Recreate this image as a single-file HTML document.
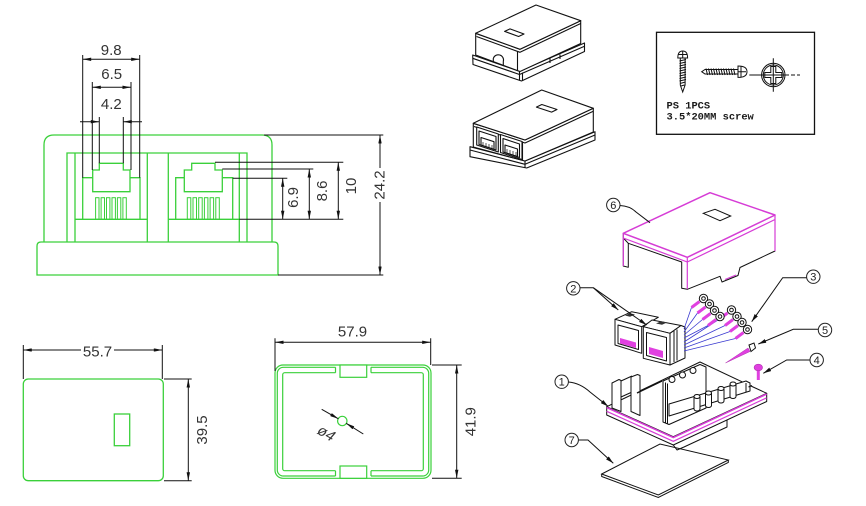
<!DOCTYPE html>
<html><head><meta charset="utf-8"><style>
html,body{margin:0;padding:0;background:#fff;}
svg{display:block;}
.d{font-family:"Liberation Sans",sans-serif;font-size:15px;fill:#333;}
.n{font-family:"Liberation Sans",sans-serif;font-size:11px;fill:#222;}
.m{font-family:"Liberation Mono",monospace;font-size:10.4px;font-weight:bold;fill:#1a1a1a;}
</style></head><body>
<svg width="866" height="506" viewBox="0 0 866 506" xmlns="http://www.w3.org/2000/svg">
<defs>
<marker id="a" viewBox="0 0 10 4" refX="10" refY="2" markerWidth="9" markerHeight="3.4" markerUnits="userSpaceOnUse" orient="auto-start-reverse"><path d="M0,0 L10,2 L0,4 Z" fill="#111"/></marker>
<marker id="b" viewBox="0 0 10 5" refX="10" refY="2.5" markerWidth="8" markerHeight="4" markerUnits="userSpaceOnUse" orient="auto"><path d="M0,0 L10,2.5 L0,5 Z" fill="#111"/></marker>
</defs>
<rect width="866" height="506" fill="#fff"/>

<!-- ===== FRONT VIEW (green) ===== -->
<g stroke="#3ad03a" stroke-width="1.3" fill="none">
<path d="M44,242 V145 Q44,135 54,135 H262 Q272,135 272,145 V242"/>
<path d="M37,275 V246 Q37,242 41,242 H274 Q278,242 278,246 V275 Z"/>
<path d="M67,242 V153 H247 V242"/>
<path d="M75,242 V153 M147.3,242 V153 M168.3,242 V153 M239.3,242 V153"/>
<path d="M75,219.3 H147.3 M168.3,219.3 H239.3"/>
<path d="M82.7,219.3 V177.7 H92.7 M140,219.3 V177.7 H130"/>
<path d="M92.7,191.7 V170 H99.3 V163.3 H123.3 V170 H130 V191.7 Z"/>
<path d="M175.7,219.3 V177.7 H184.3 M232.7,219.3 V177.7 H222.3"/>
<path d="M184.3,191.7 V170 H191.7 V163.3 H215 V170 H222.3 V191.7 Z"/>
<g stroke-width="1">
<rect x="95.6" y="197.7" width="3.4" height="21.6"/><rect x="101.1" y="197.7" width="3.4" height="21.6"/><rect x="106.5" y="197.7" width="3.4" height="21.6"/><rect x="112" y="197.7" width="3.4" height="21.6"/><rect x="117.4" y="197.7" width="3.4" height="21.6"/><rect x="122.9" y="197.7" width="3.4" height="21.6"/>
<rect x="187.3" y="197.7" width="3.5" height="21.6"/><rect x="193" y="197.7" width="3.5" height="21.6"/><rect x="198.7" y="197.7" width="3.5" height="21.6"/><rect x="204.4" y="197.7" width="3.5" height="21.6"/><rect x="210.1" y="197.7" width="3.5" height="21.6"/><rect x="215.8" y="197.7" width="3.5" height="21.6"/>
</g>
</g>

<!-- front view dims -->
<g stroke="#111" stroke-width="1" fill="none">
<path d="M82.7,55 V177.7 M139.7,55 V177.7"/>
<line x1="82.7" y1="59.3" x2="139.7" y2="59.3" marker-start="url(#a)" marker-end="url(#a)"/>
<path d="M92.3,82 V170 M131,82 V170"/>
<line x1="92.3" y1="87.3" x2="131" y2="87.3" marker-start="url(#a)" marker-end="url(#a)"/>
<path d="M99.3,117 V163.3 M123.3,117 V163.3"/>
<line x1="80" y1="121.7" x2="99.3" y2="121.7" marker-end="url(#a)"/>
<line x1="142" y1="121.7" x2="123.3" y2="121.7" marker-end="url(#a)"/>
<path d="M264,135 H383.3 M278,275 H383.3"/>
<line x1="380" y1="168" x2="380" y2="135" marker-end="url(#a)"/>
<line x1="380" y1="202" x2="380" y2="275" marker-end="url(#a)"/>
<path d="M215,162.3 H343.3 M239.3,219.3 H343.3"/>
<line x1="338.3" y1="162.3" x2="338.3" y2="219.3" marker-start="url(#a)" marker-end="url(#a)"/>
<path d="M222.3,169 H313.3"/>
<line x1="309.3" y1="169" x2="309.3" y2="219.3" marker-start="url(#a)" marker-end="url(#a)"/>
<path d="M232.7,178.3 H287.3"/>
<line x1="282.7" y1="178.3" x2="282.7" y2="219.3" marker-start="url(#a)" marker-end="url(#a)"/>
</g>
<text class="d" x="111.2" y="55" text-anchor="middle">9.8</text>
<text class="d" x="111.7" y="79" text-anchor="middle">6.5</text>
<text class="d" x="111.3" y="109" text-anchor="middle">4.2</text>
<text class="d" text-anchor="middle" dy="0.35em" transform="translate(379,185) rotate(-90)">24.2</text>
<text class="d" text-anchor="middle" dy="0.35em" transform="translate(350.8,186) rotate(-90)">10</text>
<text class="d" text-anchor="middle" dy="0.35em" transform="translate(321.7,191) rotate(-90)">8.6</text>
<text class="d" text-anchor="middle" dy="0.35em" transform="translate(292.5,197.5) rotate(-90)">6.9</text>

<!-- ===== SIDE VIEW ===== -->
<g stroke="#3ad03a" stroke-width="1.3" fill="none">
<rect x="23.3" y="379" width="140" height="101.7" rx="5"/>
<rect x="114.3" y="414" width="15.4" height="31.7"/>
</g>
<g stroke="#111" stroke-width="1" fill="none">
<path d="M23.3,345 V379 M162.3,345 V379"/>
<line x1="81" y1="350" x2="23.3" y2="350" marker-end="url(#a)"/>
<line x1="114" y1="350" x2="162.3" y2="350" marker-end="url(#a)"/>
<path d="M164,379 H191.7 M164,480.7 H191.7"/>
<line x1="188.3" y1="379" x2="188.3" y2="480.7" marker-start="url(#a)" marker-end="url(#a)"/>
</g>
<text class="d" x="97.5" y="356.7" text-anchor="middle">55.7</text>
<text class="d" text-anchor="middle" dy="0.35em" transform="translate(201.7,430) rotate(-90)">39.5</text>

<!-- ===== BOTTOM VIEW ===== -->
<g stroke="#3ad03a" stroke-width="1.2" fill="none">
<rect x="275" y="365" width="156" height="113.3" rx="8"/>
<rect x="277.3" y="367.3" width="151.4" height="108.7" rx="6"/>
<rect x="282.7" y="372.7" width="140.6" height="98" rx="2"/>
</g>
<rect x="335.5" y="366.2" width="35.5" height="8" fill="#fff"/>
<rect x="335.5" y="470" width="35.5" height="7.3" fill="#fff"/>
<g stroke="#3ad03a" stroke-width="1.2" fill="#fff">
<rect x="340" y="365" width="26.7" height="12.3"/>
<rect x="340" y="466" width="26.7" height="12.3"/>
<path d="M335.5,367.3 V372.7 M371,367.3 V372.7 M335.5,470.7 V476 M371,470.7 V476" fill="none"/>
<circle cx="342.3" cy="421" r="4.7" fill="none"/>
</g>
<g stroke="#111" stroke-width="1" fill="none">
<line x1="321.7" y1="409.3" x2="338.4" y2="418.8" marker-end="url(#a)"/>
<line x1="363.3" y1="434" x2="346.2" y2="423.3" marker-end="url(#a)"/>
<path d="M275,338.3 V371 M430.7,338.3 V365"/>
<line x1="275" y1="342.3" x2="430.7" y2="342.3" marker-start="url(#a)" marker-end="url(#a)"/>
<path d="M432,365 H461.7 M432,478.3 H461.7"/>
<line x1="456.7" y1="365" x2="456.7" y2="478.3" marker-start="url(#a)" marker-end="url(#a)"/>
</g>
<text class="d" text-anchor="middle" dy="0.35em" font-style="italic" transform="translate(326.5,433) rotate(30)">ø4</text>
<text class="d" x="352.5" y="336.7" text-anchor="middle">57.9</text>
<text class="d" text-anchor="middle" dy="0.35em" transform="translate(470,421.7) rotate(-90)">41.9</text>

<!-- ===== 3D BOX 1 ===== -->
<g stroke="#111" stroke-width="1.1" fill="#fff" stroke-linejoin="round">
<path d="M472.7,55 L519.5,71.3 L584.5,43 V51.5 L521.5,81 L473,64.5 Z"/>
<path d="M472.7,58.3 L519.5,74.5 L584.5,46.3 M519.5,71.3 V80.5 M522.5,72.5 V81" fill="none"/>
<path d="M475.7,33.3 L520,49.3 L580.7,20.7 V43.5 L520,71.5 L475.7,55 Z"/>
<path d="M475.7,33.3 L536,5 L580.7,20.7 L520,49.3 Z"/>
<path d="M476.5,36.5 L520,52.3 L580.7,23.5 M517.5,51 V70.5" fill="none"/>
<path d="M493.3,62 V58.5 A5,5 0 0 1 503.3,61.5 V65.5" fill="none"/>
<path d="M550,58.5 V63 M560,54.5 V59" fill="none"/>
<path d="M524,34 L518.6,36.5 L504.6,31.4 L510,28.9 Z"/>
</g>

<!-- ===== 3D BOX 2 ===== -->
<g stroke="#111" stroke-width="1.1" fill="#fff" stroke-linejoin="round">
<path d="M470,146.7 L525,161 L595,131.7 V140 L526.7,168 L470,156.7 Z"/>
<path d="M470,150 L525,164.3 L595,135 M525,161 V167.5" fill="none"/>
<path d="M473.3,123.3 L525,140 L593.3,108.3 V132 L525,161 L473.3,147 Z"/>
<path d="M473.3,123.3 L541.7,90 L593.3,108.3 L525,140 Z"/>
<path d="M474,126.5 L525,143 L593.3,111.3 M522.5,141.5 V160" fill="none"/>
<path d="M557,109.5 L551.6,112.1 L536.4,107.1 L541.8,104.5 Z"/>
<path d="M476.7,127 L498.3,134 V152 L476.7,145 Z"/>
<path d="M479,131 L496,136.5 V150 L479,144.5 Z"/>
<path d="M481,137.5 L494,141.7 V149.3 L481,145 Z"/>
<path d="M500.5,134.5 L522,141.5 V159.5 L500.5,152.5 Z"/>
<path d="M503,138.5 L519.5,144 V157.5 L503,152 Z"/>
<path d="M505,145 L517.5,149 V156.5 L505,152.5 Z"/>
<path d="M483,146 V142 M486,147 V143 M489,148 V144 M492,149 V145 M507,153 V149 M510,154 V150 M513,155 V151 M516,156 V152" fill="none" stroke-width="0.7"/>
</g>

<!-- ===== SCREW BOX ===== -->
<rect x="656.5" y="32.3" width="158" height="102" fill="none" stroke="#111" stroke-width="1.3"/>
<g stroke="#111" stroke-width="1" fill="#fff">
<path d="M677.8,58 Q677.8,51 682.7,51 Q687.6,51 687.6,58 Z"/>
<path d="M678.5,54.5 H687 M682.7,51 V58" fill="none"/>
<path d="M680.3,58 V85 L682.7,92 L685.1,85 V58 Z"/>
<path d="M679.5,61 L686,59.5 M679.5,63.5 L686,62 M679.5,66 L686,64.5 M679.5,68.5 L686,67 M679.5,71 L686,69.5 M679.5,73.5 L686,72 M679.5,76 L686,74.5 M679.5,78.5 L686,77 M679.5,81 L686,79.5 M680,83.5 L685.5,82 M681,86 L684.5,85" fill="none"/>
<path d="M738,69.5 H705 L701.7,71.7 L705,74 H738 Z"/>
<path d="M706,68.5 L707.5,75 M708.5,68.5 L710,75 M711,68.5 L712.5,75 M713.5,68.5 L715,75 M716,68.5 L717.5,75 M718.5,68.5 L720,75 M721,68.5 L722.5,75 M723.5,68.5 L725,75 M726,68.5 L727.5,75 M728.5,68.5 L730,75 M731,68.5 L732.5,75 M733.5,68.5 L735,75" fill="none"/>
<path d="M738,66 Q747,66 747,71.7 Q747,77.4 738,77.4 Z"/>
<path d="M738,71.7 H746 M741,66.5 V77" fill="none"/>
<circle cx="773.3" cy="75" r="11.7"/>
<circle cx="773.3" cy="75" r="10" fill="none"/>
<path d="M770.8,66.5 H775.8 V72.5 H781.8 V77.5 H775.8 V83.5 H770.8 V77.5 H764.8 V72.5 H770.8 Z" fill="none"/>
<path d="M749.3,75 H789 M791,75 H795 M797,75 H800 M773.3,58.3 V91.7" fill="none"/>
</g>
<text class="m" x="666.5" y="108.3">PS 1PCS</text>
<text class="m" x="666.5" y="119.5">3.5*20MM screw</text>

<!-- ===== EXPLODED VIEW ===== -->
<!-- plate 7 -->
<g stroke="#111" stroke-width="1" fill="#fff">
<path d="M601.7,474 L660,444 L728.3,460 L658.3,495 Z"/>
<path d="M601.7,474 V476.5 L658.3,497.5 L728.3,462.5 V460" fill="none"/>
</g>
<!-- base 1 -->
<g stroke="#111" stroke-width="1" fill="#fff" stroke-linejoin="round">
<path d="M673.3,445 L677,450 L684,447 L727,427 V420" fill="none"/>
<path d="M606.7,406.7 L673.3,436.7 L766.7,393.3 V401.5 L673.3,445 L606.7,415 Z"/>
<path d="M606.7,406.7 L626,397.5 L700,362 L752,386.5 L766.7,393.3 L673.3,436.7 Z"/>
<path d="M612,383 L619,379.5 L621,380.5 V411.5 L612,408 Z"/>
<path d="M621,381 L632,376 M621,397 L631,392.5" fill="none"/>
<path d="M631,377 L637.5,374.5 L640,375.5 V415.5 L631,411.5 Z"/>
<path d="M637,393 L662,381" fill="none" stroke-width="1.5"/>
<path d="M663,381 L700,364.5 L706,367 V408 L669,424.5 L663,422 Z"/>
<path d="M665.5,382.5 V423 M667.5,383.5 V424" fill="none"/>
<path d="M669,404 L746,381 L750,383 V391 L669,416 Z"/>
<circle cx="672" cy="379.5" r="3"/><circle cx="682.5" cy="375" r="3"/><circle cx="693" cy="370.5" r="3"/>
<path d="M694,396.5 V409 A3,2 0 0 0 700,409 V396.5" /><ellipse cx="697" cy="396.5" rx="3" ry="2"/>
<path d="M705.5,393 V405.5 A3,2 0 0 0 711.5,405.5 V393"/><ellipse cx="708.5" cy="393" rx="3" ry="2"/>
<path d="M718,388.5 V401 A3,2 0 0 0 724,401 V388.5"/><ellipse cx="721" cy="388.5" rx="3" ry="2"/>
<path d="M730,384 V396.5 A3,2 0 0 0 736,396.5 V384"/><ellipse cx="733" cy="384" rx="3" ry="2"/>
<path d="M746,383 V392 M748.5,387 L752,385.5" fill="none"/>
</g>
<path d="M606.7,407.5 L673.3,437.5 L766.7,394" stroke="#d63cd6" stroke-width="1.6" fill="none"/>
<path d="M606.7,411.3 L673.3,441.3 L766.7,397.8" stroke="#d63cd6" stroke-width="1.2" fill="none"/>

<!-- jacks 2 -->
<g stroke="#111" stroke-width="1" fill="#fff" stroke-linejoin="round">
<path d="M615,319.3 L631.7,311.7 L658.3,317.3 L641.7,326.7 Z"/>
<path d="M615,319.3 L641.7,326.7 V353.3 L615,345 Z"/>
<path d="M618,325 L638.5,330.5 V349.5 L618,343.5 Z"/>
<path d="M643.3,326.7 L652,320 L681,325.5 L670,333.3 Z"/>
<path d="M670,333.3 L681,325.5 L685,327 V358 L670,365 Z"/>
<path d="M643.3,326.7 L670,333.3 V365 L643.3,358.3 Z"/>
<path d="M646.5,332.5 L666.5,337.5 V361 L646.5,355.5 Z"/>
<path d="M674,331 V362 M677,329.5 V360.5" fill="none"/>
</g>
<path d="M620,338 L636,342.5 V348 L620,343.5 Z" fill="#e040e0"/>
<path d="M649,347 L663,351 V358 L649,354 Z" fill="#e040e0"/>
<path d="M625,315.5 L630,313.2 L635,314.5 L630,316.8 Z" fill="#333"/>
<path d="M656,323.5 L661,321.2 L667,322.5 L662,324.8 Z" fill="#333"/>

<!-- wires -->
<g stroke="#3a3ad0" stroke-width="0.8" fill="none">
<path d="M684,329 L691.5,307.5 M684,332 L697.5,313 M684,335 L702.5,319.5 M684,338 L708,325.5"/>
<path d="M684,342 L719.5,319 M684,345 L725,325.5 M684,348 L730,331.5 M684,351 L735.5,338.5"/>
</g>
<g stroke="#e040e0" stroke-width="3" fill="none">
<path d="M691.5,307.5 L699.5,301.5 M697.5,313 L705.5,307 M702.5,319.5 L710.5,313.5 M708,325.5 L716,319.5"/>
<path d="M719.5,319 L727.5,313 M725,325.5 L733,319.5 M730,331.5 L738,325.5 M735.5,338.5 L743.5,332.5"/>
</g>
<g stroke="#111" stroke-width="1" fill="#fff">
<circle cx="703.5" cy="298.5" r="4.2"/><circle cx="709.5" cy="304" r="4.2"/><circle cx="714.5" cy="310.5" r="4.2"/><circle cx="720" cy="316.5" r="4.2"/>
<circle cx="731.5" cy="310" r="4.2"/><circle cx="737" cy="316.5" r="4.2"/><circle cx="742" cy="322.5" r="4.2"/><circle cx="747.5" cy="329.5" r="4.2"/>
<circle cx="703.5" cy="298.5" r="1.8"/><circle cx="709.5" cy="304" r="1.8"/><circle cx="714.5" cy="310.5" r="1.8"/><circle cx="720" cy="316.5" r="1.8"/>
<circle cx="731.5" cy="310" r="1.8"/><circle cx="737" cy="316.5" r="1.8"/><circle cx="742" cy="322.5" r="1.8"/><circle cx="747.5" cy="329.5" r="1.8"/>
</g>

<!-- screws 5 & 4 -->
<path d="M725.5,363 L748,348 L750,351.5 Z" fill="#e040e0" stroke="#b030b0" stroke-width="0.5"/>
<path d="M749,345 L754,343 L755.5,348 L751,351.5 Z" fill="#fff" stroke="#111" stroke-width="1"/>
<rect x="756.8" y="369.5" width="3" height="10.5" fill="#e040e0"/>
<ellipse cx="758.3" cy="367.5" rx="4.2" ry="3.3" fill="#e040e0" stroke="#b030b0" stroke-width="0.6"/>

<!-- cover 6 -->
<g stroke="#111" stroke-width="1" fill="#fff" stroke-linejoin="round">
<path d="M623.3,233.3 L687.3,257.3 L775,215 V251 L740,267.5 L738,275.5 L722,282 L720,276.3 L687.3,289.3 L681.7,288.3 V262 L628.3,243.3 V267.3 L623.3,266 Z"/>
<path d="M628.3,243.3 L623.3,238" fill="none"/>
</g>
<path d="M623.3,233.3 L710,192.7 L775,215 L687.3,257.3 Z" fill="#fff" stroke="#d63cd6" stroke-width="1.5" stroke-linejoin="round"/>
<g stroke="#d63cd6" stroke-width="1.2" fill="none">
<path d="M623.3,238 L687.3,262 L775,219.5"/>
<path d="M687.3,257.3 V289 M775,215 V251 M623.3,233.3 V266"/>
<path d="M725,279.5 L736,275"/>
</g>
<path d="M703.3,213.3 L715,209.3 L730.7,216 L720,220.7 Z" fill="#fff" stroke="#111" stroke-width="1"/>

<!-- labels -->
<g stroke="#111" stroke-width="1" fill="none">
<path d="M620,205.5 Q630,206 636,212 L650,222.7"/>
<path d="M580,287.7 H593.3 L618.3,310" marker-end="url(#b)"/>
<path d="M593.3,287.7 L646.7,325" marker-end="url(#b)"/>
<path d="M806.7,277.7 H782.7 L751.7,321.7" marker-end="url(#b)"/>
<path d="M818.3,329.3 H793.3 L758.3,344" marker-end="url(#b)"/>
<path d="M810,360 H786.7 L763.3,373.3" marker-end="url(#b)"/>
<path d="M568.5,382 Q580,383 590,392 L608.3,406.5" marker-end="url(#b)"/>
<path d="M578.5,440 H588 L613.3,463.3" marker-end="url(#b)"/>
</g>
<g stroke="#222" stroke-width="1" fill="#fff">
<circle cx="613.3" cy="205" r="6.7"/>
<circle cx="573.3" cy="288.3" r="6.7"/>
<circle cx="813.3" cy="276.7" r="6.7"/>
<circle cx="825" cy="330" r="6.7"/>
<circle cx="816.7" cy="360" r="6.7"/>
<circle cx="561.7" cy="381.7" r="6.7"/>
<circle cx="571.7" cy="440" r="6.7"/>
</g>
<g text-anchor="middle">
<text class="n" x="613.3" y="209">6</text>
<text class="n" x="573.3" y="292.3">2</text>
<text class="n" x="813.3" y="280.7">3</text>
<text class="n" x="825" y="334">5</text>
<text class="n" x="816.7" y="364">4</text>
<text class="n" x="561.7" y="385.7">1</text>
<text class="n" x="571.7" y="444">7</text>
</g>
</svg>
</body></html>
